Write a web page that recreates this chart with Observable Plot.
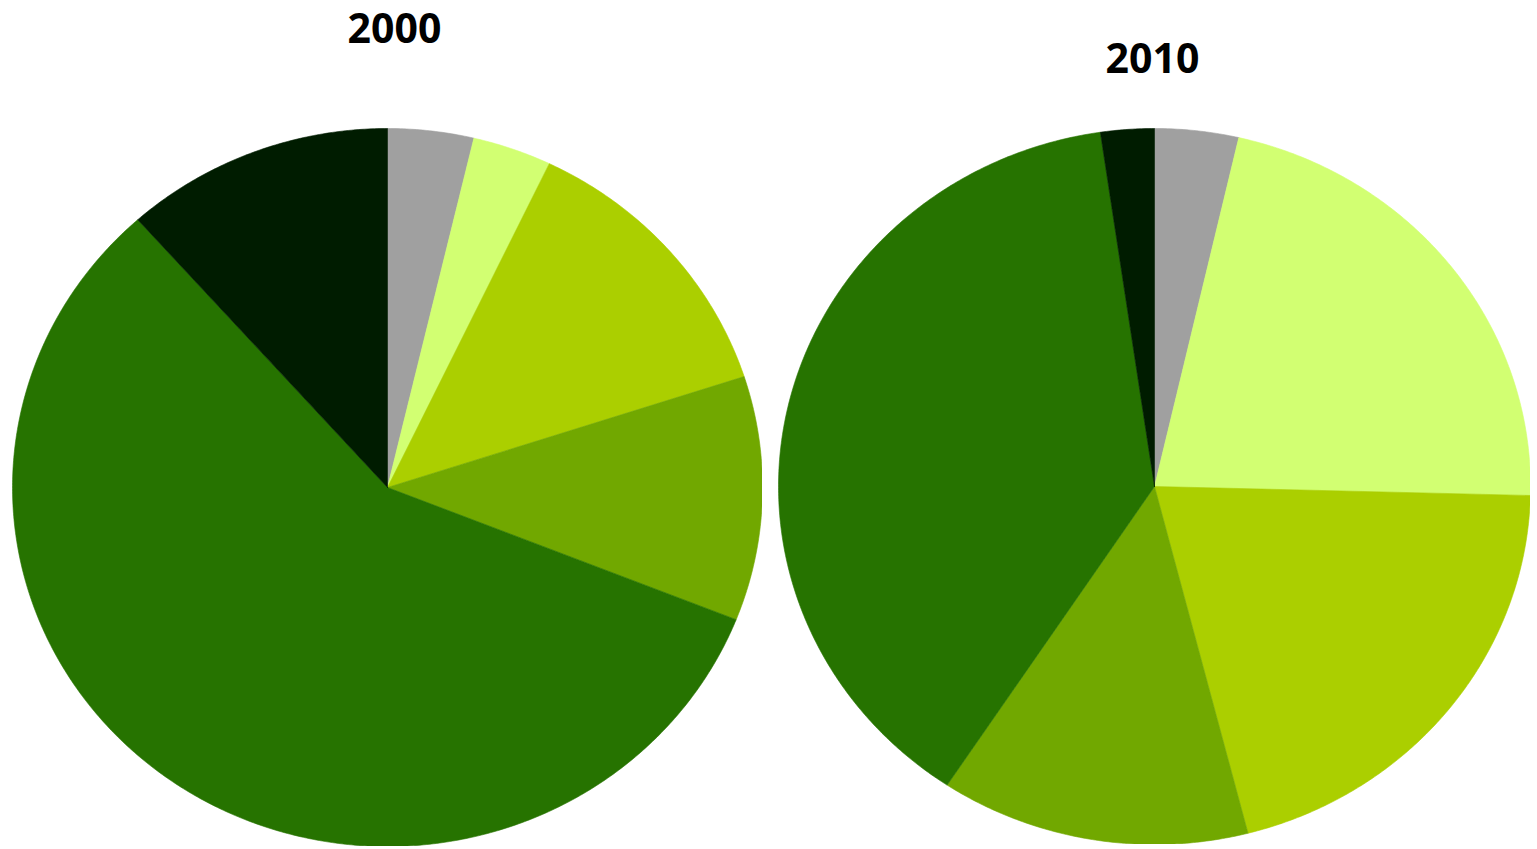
<!DOCTYPE html>
<html>
<head>
<meta charset="utf-8">
<script src="https://cdn.jsdelivr.net/npm/d3@7"></script>
<script src="https://cdn.jsdelivr.net/npm/@observablehq/plot@0.6"></script>
<style>
  html, body { margin: 0; padding: 0; background: #fff; }
  #page { position: relative; width: 1537px; height: 849px; overflow: hidden; }
  .title { position: absolute; font-family: "Open Sans", sans-serif; font-weight: 700; font-size: 41px; color: #000; text-align: center; width: 300px; line-height: 50px; }
  .pie { position: absolute; }
</style>
</head>
<body>
<div id="page"></div>
<script>
const years = ["2000", "2010"];
const categories = ["Grey", "Light lime", "Lime", "Green", "Dark green", "Black green"];
const colors = ["#a0a0a0", "#d2ff72", "#abcf00", "#71a800", "#267300", "#001c00"];
const values2000 = [3.7, 3.4, 12.9, 11.0, 57.4, 11.6];
const values2010 = [3.6, 21.8, 20.6, 13.3, 38.4, 2.3];

const layout = [
  {year: years[0], values: values2000, left: 12, top: 128, w: 750, h: 718, titleX: 394.5, titleY: 27},
  {year: years[1], values: values2010, left: 778, top: 128, w: 752, h: 716, titleX: 1152.5, titleY: 57}
];

function slicePolygons(values) {
  const arcs = d3.pie().sort(null).value(d => d)(values);
  const pts = [];
  arcs.forEach((a, i) => {
    const cat = categories[i];
    pts.push({cat, x: 0, y: 0});
    const n = Math.max(2, Math.ceil((a.endAngle - a.startAngle) / (Math.PI / 360)));
    for (let k = 0; k <= n; k++) {
      const t = a.startAngle + (a.endAngle - a.startAngle) * k / n;
      pts.push({cat, x: Math.sin(t), y: Math.cos(t)});
    }
    pts.push({cat, x: 0, y: 0});
  });
  return pts;
}

const page = document.getElementById("page");
layout.forEach(L => {
  const title = document.createElement("div");
  title.className = "title";
  title.textContent = L.year;
  title.style.left = (L.titleX - 150) + "px";
  title.style.top = (L.titleY - 25) + "px";
  page.appendChild(title);

  const chart = Plot.plot({
    width: L.w,
    height: L.h,
    margin: 0,
    x: {domain: [-1, 1], axis: null},
    y: {domain: [-1, 1], axis: null},
    color: {domain: categories, range: colors},
    marks: [
      Plot.line(slicePolygons(L.values), {
        x: "x", y: "y", z: "cat",
        fill: "cat", stroke: "cat", strokeWidth: 0.6,
        curve: "linear"
      })
    ]
  });
  const wrap = document.createElement("div");
  wrap.className = "pie";
  wrap.style.left = L.left + "px";
  wrap.style.top = L.top + "px";
  wrap.appendChild(chart);
  page.appendChild(wrap);
});
</script>
</body>
</html>
